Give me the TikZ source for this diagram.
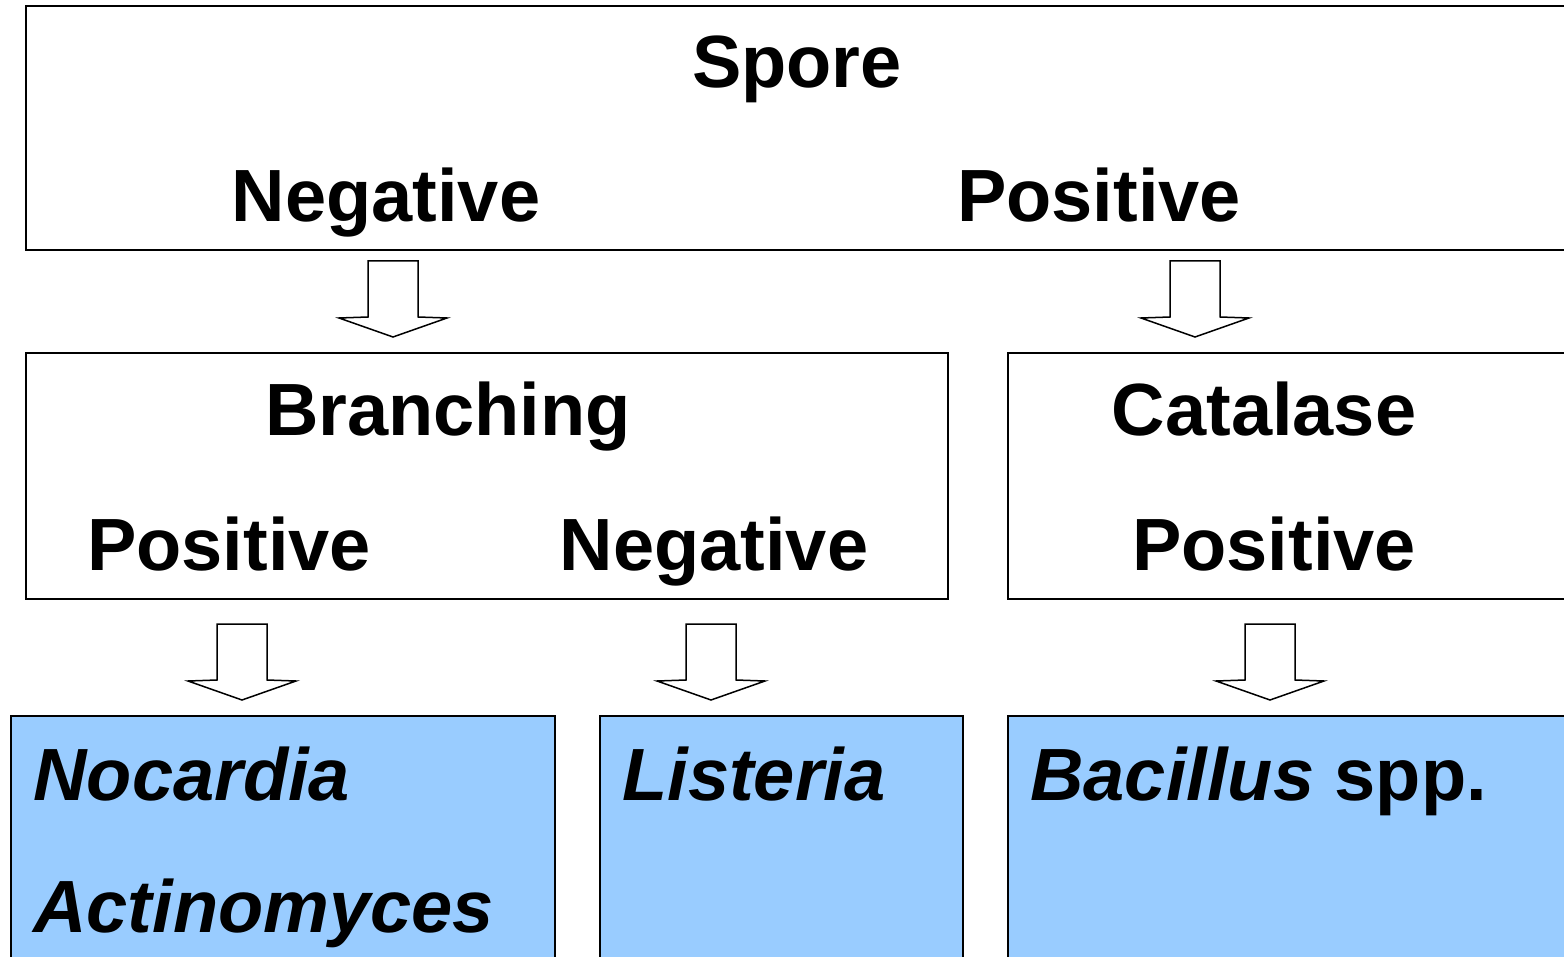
\documentclass[tikz,border=0pt]{standalone}
\usepackage{fontspec}
\setmainfont{Liberation Sans}
\definecolor{leafblue}{HTML}{99CCFF}
\tikzset{
  box/.style={draw=black, line width=1pt, rectangle, inner sep=0pt, anchor=north west},
  leaf/.style={box, fill=leafblue},
  label/.style={font=\fontsize{37}{44}\selectfont\bfseries, anchor=base, inner sep=0pt},
  taxon/.style={font=\fontsize{37}{44}\selectfont\bfseries, anchor=base west, inner sep=0pt},
  arrowline/.style={draw=black, line width=0.75pt, fill=white, line join=miter},
  pics/blockarrow/.style={code={
    \draw[arrowline] (-25,0) -- (25,0) -- (25,56) -- (54,57) -- (0,76)
      -- (-54,57) -- (-25,56) -- cycle;}}
}
\begin{document}
\begin{tikzpicture}[x=0.5pt, y=-0.5pt]
  \useasboundingbox (0,0) rectangle (1564,957);
  \clip (0,0) rectangle (1564,957);

  % decision boxes
  \node[box, minimum width=787.5pt, minimum height=122pt] (spore) at (25,5) {};
  \node[box, minimum width=461pt, minimum height=123pt] (branch) at (25,352) {};
  \node[box, minimum width=300pt, minimum height=123pt] (catal) at (1007,352) {};

  % result boxes
  \node[leaf, minimum width=272pt, minimum height=150pt] (noc) at (10,715) {};
  \node[leaf, minimum width=181.5pt, minimum height=150pt] (lis) at (599,715) {};
  \node[leaf, minimum width=300pt, minimum height=150pt] (bac) at (1007,715) {};

  % labels
  \node[label] (sporeT) at (797,88) {Spore};
  \node[label] (sporeN) at (386,222) {Negative};
  \node[label] (sporeP) at (1099,222) {Positive};
  \node[label] (branchT) at (448,435) {Branching};
  \node[label] (catalT) at (1264,435) {Catalase};
  \node[label] (branchP) at (229,570) {Positive};
  \node[label] (branchN) at (714,570) {Negative};
  \node[label] (catalP) at (1274,570) {Positive};

  \node[taxon] (nocT) at (33,800) {\itshape Nocardia};
  \node[taxon] (actT) at (33,932) {\itshape Actinomyces};
  \node[taxon] (lisT) at (622,800) {\itshape Listeria};
  \node[taxon] (bacT) at (1030,800) {{\itshape Bacillus} spp.};

  % block arrows between levels
  \pic at (393,261) {blockarrow};
  \pic at (1195,261) {blockarrow};
  \pic at (242,624) {blockarrow};
  \pic at (711,624) {blockarrow};
  \pic at (1270,624) {blockarrow};
\end{tikzpicture}
\end{document}
